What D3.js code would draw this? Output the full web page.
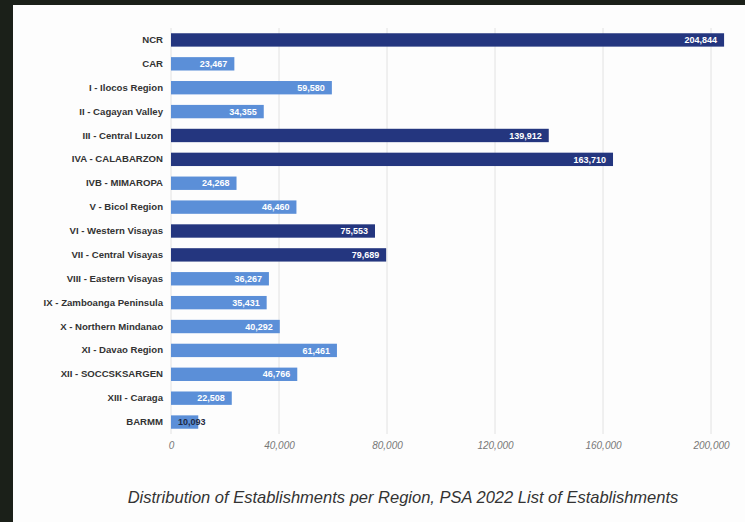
<!DOCTYPE html>
<html>
<head>
<meta charset="utf-8">
<script src="https://cdn.jsdelivr.net/npm/d3@7"></script>
<style>
  body { margin: 0; background: #1b2019; }
  svg { display: block; }
</style>
</head>
<body>
<div id="chart"></div>
<script>
var regions = ["NCR", "CAR", "I - Ilocos Region", "II - Cagayan Valley", "III - Central Luzon",
  "IVA - CALABARZON", "IVB - MIMAROPA", "V - Bicol Region", "VI - Western Visayas",
  "VII - Central Visayas", "VIII - Eastern Visayas", "IX - Zamboanga Peninsula",
  "X - Northern Mindanao", "XI - Davao Region", "XII - SOCCSKSARGEN", "XIII - Caraga", "BARMM"];
var establishments = [204844, 23467, 59580, 34355, 139912, 163710, 24268, 46460, 75553,
  79689, 36267, 35431, 40292, 61461, 46766, 22508, 10093];
var highlighted = ["NCR", "III - Central Luzon", "IVA - CALABARZON", "VI - Western Visayas", "VII - Central Visayas"];
var xTicks = [0, 40000, 80000, 120000, 160000, 200000];
var title = "Distribution of Establishments per Region, PSA 2022 List of Establishments";

var w = 745, h = 522;
var font = "'Liberation Sans', Arial, sans-serif";
var data = regions.map(function(r, i) { return {region: r, value: establishments[i]}; });

var svg = d3.select("#chart").append("svg")
    .attr("width", w)
    .attr("height", h);

// photo of a slide: white panel on dark background
svg.append("rect")
    .attr("x", 13).attr("y", 5)
    .attr("width", w - 13).attr("height", h - 5)
    .attr("fill", "#fdfdfd");

var x = d3.scaleLinear().domain([0, 200000]).range([171, 711]);
var y = d3.scaleBand().domain(regions).range([28, 434])
    .paddingInner(0.44).paddingOuter(0.22);

// gridlines
svg.append("g").selectAll("line")
    .data(xTicks)
    .enter().append("line")
    .attr("x1", function(d) { return x(d); })
    .attr("x2", function(d) { return x(d); })
    .attr("y1", 28).attr("y2", 434)
    .attr("stroke", "#e2e2e2")
    .attr("stroke-width", 1);

// x axis labels
var xAxis = svg.append("g")
    .attr("transform", "translate(0,439)")
    .call(d3.axisBottom(x).tickValues(xTicks).tickSize(0).tickFormat(d3.format(",")));
xAxis.select(".domain").remove();
xAxis.selectAll("text")
    .style("font", "italic 10px " + font)
    .attr("fill", "#777");

// y axis labels
var yAxis = svg.append("g")
    .attr("transform", "translate(171,0)")
    .call(d3.axisLeft(y).tickSize(0).tickPadding(8));
yAxis.select(".domain").remove();
yAxis.selectAll("text")
    .style("font", "bold 9.6px " + font)
    .attr("fill", "#333");

var bar = svg.append("g").selectAll(".bar")
    .data(data)
    .enter().append("g")
    .attr("class", "bar");

bar.append("rect")
    .attr("x", x(0))
    .attr("y", function(d) { return y(d.region); })
    .attr("width", function(d) { return x(d.value) - x(0); })
    .attr("height", y.bandwidth())
    .attr("fill", function(d) { return highlighted.indexOf(d.region) >= 0 ? "#24367f" : "#5b8fd8"; });

bar.append("text")
    .attr("y", function(d) { return y(d.region) + y.bandwidth() / 2; })
    .attr("dy", "0.35em")
    .attr("x", function(d) {
      var bw = x(d.value) - x(0);
      return bw > 40 ? x(d.value) - 7 : x(0) + 7;
    })
    .attr("text-anchor", function(d) { return x(d.value) - x(0) > 40 ? "end" : "start"; })
    .attr("fill", function(d) { return x(d.value) - x(0) > 40 ? "#fff" : "#1f2a44"; })
    .style("font", "bold 9px " + font)
    .text(function(d) { return d3.format(",")(d.value); });

svg.append("text")
    .attr("x", 403)
    .attr("y", 503)
    .attr("text-anchor", "middle")
    .attr("fill", "#333")
    .style("font", "italic 16.5px " + font)
    .text(title);
</script>
</body>
</html>
